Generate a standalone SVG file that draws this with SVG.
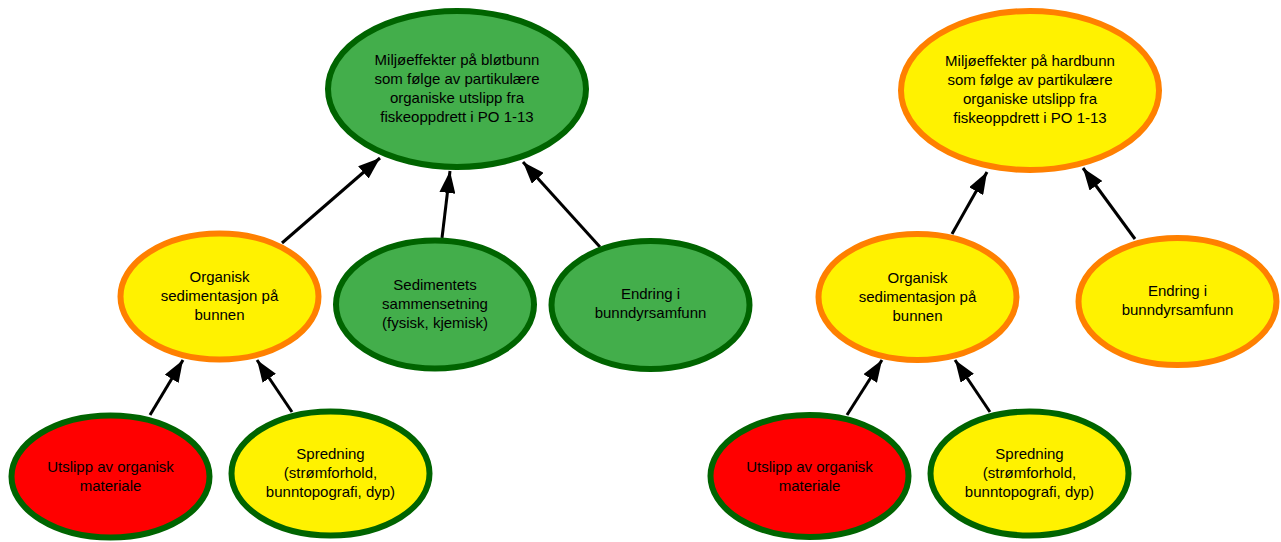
<svg xmlns="http://www.w3.org/2000/svg" width="1281" height="542" viewBox="0 0 1281 542">
<style>
  .n ellipse { stroke-width: 6; }
  .green ellipse { fill: #43ae4b; stroke: #006400; }
  .yo ellipse { fill: #fff200; stroke: #ff8000; }
  .yg ellipse { fill: #fff200; stroke: #006400; }
  .rg ellipse { fill: #ff0000; stroke: #006400; }
  text { font-family: "Liberation Sans", Arial, sans-serif; font-size: 15px; fill: #000; text-anchor: middle; }
  .edges line { stroke: #000; stroke-width: 3; marker-end: url(#arr); }
</style>
<defs>
  <marker id="arr" viewBox="0 0 22 16" refX="22" refY="8" markerWidth="22" markerHeight="16" markerUnits="userSpaceOnUse" orient="auto">
    <path d="M0,0 L22,8 L0,16 z" fill="#000"/>
  </marker>
</defs>
<rect width="1281" height="542" fill="#fff"/>

<g class="edges">
  <line x1="282" y1="243" x2="380" y2="158"/>
  <line x1="442" y1="238" x2="450" y2="171"/>
  <line x1="600" y1="247" x2="523" y2="162"/>
  <line x1="150" y1="415" x2="183" y2="360"/>
  <line x1="292" y1="412" x2="257" y2="360"/>
  <line x1="952" y1="234" x2="987" y2="172"/>
  <line x1="1135" y1="239" x2="1083" y2="168"/>
  <line x1="847" y1="415" x2="882" y2="360"/>
  <line x1="990" y1="412" x2="955" y2="360"/>
</g>

<g id="top-left" class="n green">
  <ellipse cx="457" cy="89" rx="129" ry="78"/>
  <text x="457" y="65">Miljøeffekter på bløtbunn</text>
  <text x="457" y="84">som følge av partikulære</text>
  <text x="457" y="103">organiske utslipp fra</text>
  <text x="457" y="122">fiskeoppdrett i PO 1-13</text>
</g>
<g id="org-left" class="n yo">
  <ellipse cx="219.5" cy="296.5" rx="99" ry="63"/>
  <text x="219.5" y="282">Organisk</text>
  <text x="219.5" y="301">sedimentasjon på</text>
  <text x="219.5" y="320">bunnen</text>
</g>
<g id="sed-left" class="n green">
  <ellipse cx="435" cy="304.5" rx="99" ry="64"/>
  <text x="435" y="290">Sedimentets</text>
  <text x="435" y="309">sammensetning</text>
  <text x="435" y="328">(fysisk, kjemisk)</text>
</g>
<g id="endring-left" class="n green">
  <ellipse cx="650.5" cy="305" rx="99" ry="64"/>
  <text x="650.5" y="299">Endring i</text>
  <text x="650.5" y="318">bunndyrsamfunn</text>
</g>
<g id="utslipp-left" class="n rg">
  <ellipse cx="110.5" cy="476.5" rx="99" ry="61"/>
  <text x="110.5" y="472">Utslipp av organisk</text>
  <text x="110.5" y="491">materiale</text>
</g>
<g id="spredning-left" class="n yg">
  <ellipse cx="330.5" cy="473.5" rx="99" ry="62"/>
  <text x="330.5" y="459">Spredning</text>
  <text x="330.5" y="478">(strømforhold,</text>
  <text x="330.5" y="497">bunntopografi, dyp)</text>
</g>

<g id="top-right" class="n yo">
  <ellipse cx="1030" cy="90.5" rx="129" ry="79.5"/>
  <text x="1030" y="66">Miljøeffekter på hardbunn</text>
  <text x="1030" y="85">som følge av partikulære</text>
  <text x="1030" y="104">organiske utslipp fra</text>
  <text x="1030" y="123">fiskeoppdrett i PO 1-13</text>
</g>
<g id="org-right" class="n yo">
  <ellipse cx="917.5" cy="297" rx="99" ry="63"/>
  <text x="917.5" y="282.5">Organisk</text>
  <text x="917.5" y="301.5">sedimentasjon på</text>
  <text x="917.5" y="320.5">bunnen</text>
</g>
<g id="endring-right" class="n yo">
  <ellipse cx="1177.5" cy="301.5" rx="99" ry="63.5"/>
  <text x="1177.5" y="296">Endring i</text>
  <text x="1177.5" y="315">bunndyrsamfunn</text>
</g>
<g id="utslipp-right" class="n rg">
  <ellipse cx="809.5" cy="476" rx="99" ry="61"/>
  <text x="809.5" y="471.5">Utslipp av organisk</text>
  <text x="809.5" y="490.5">materiale</text>
</g>
<g id="spredning-right" class="n yg">
  <ellipse cx="1029.5" cy="473.5" rx="99" ry="62"/>
  <text x="1029.5" y="459">Spredning</text>
  <text x="1029.5" y="478">(strømforhold,</text>
  <text x="1029.5" y="497">bunntopografi, dyp)</text>
</g>
</svg>
